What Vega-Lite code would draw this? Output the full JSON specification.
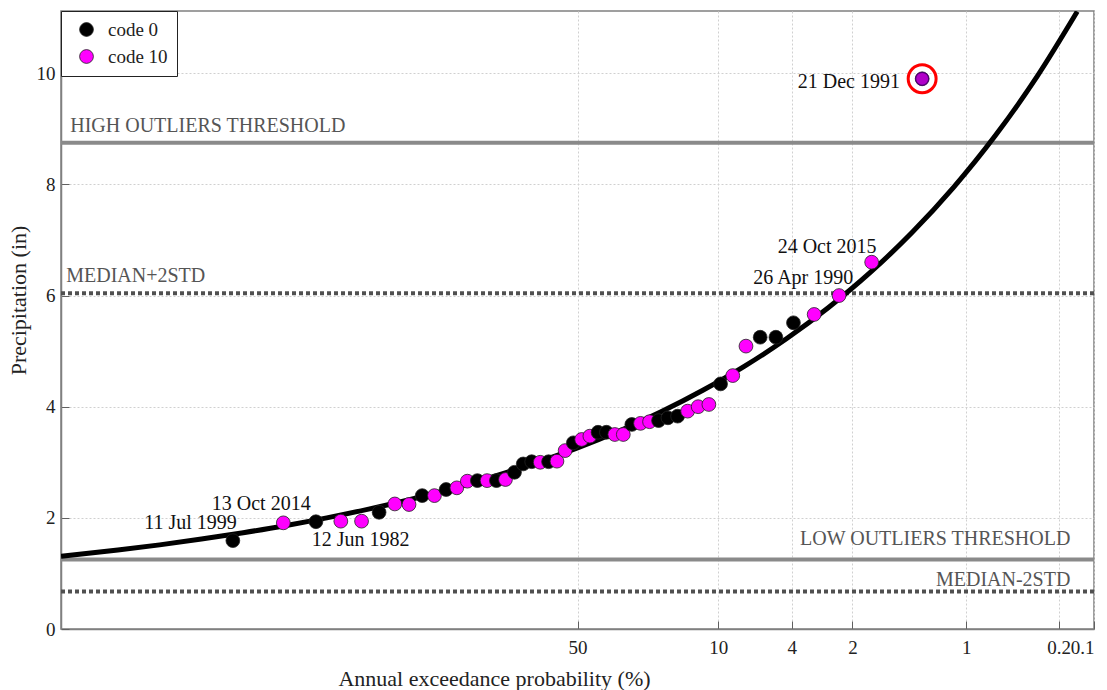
{
  "$schema": "https://vega.github.io/schema/vega-lite/v6.json",
  "width": 1033,
  "height": 618,
  "autosize": {"type": "none"},
  "padding": {"left": 61, "top": 11, "right": 13, "bottom": 61},
  "background": "white",
  "config": {
    "font": "Liberation Serif",
    "view": {"stroke": "#808080", "strokeWidth": 1.5},
    "text": {"font": "Liberation Serif"},
    "axis": {
      "labelFont": "Liberation Serif", "labelFontSize": 19, "labelColor": "#222222",
      "titleFont": "Liberation Serif", "titleFontSize": 22, "titleFontWeight": "normal", "titleColor": "#222222",
      "tickSize": -8, "tickColor": "#606060",
      "grid": true, "gridColor": "#d0d0d0", "gridDash": [2, 2], "gridWidth": 1,
      "domainColor": "#808080", "domainWidth": 1.5,
      "labelOverlap": false
    },
    "legend": {"labelFont": "Liberation Serif", "labelFontSize": 19}
  },
  "datasets": {
    "points": [
      {"z": -2.062, "value": 1.59, "code": "code 0"},
      {"z": -1.760, "value": 1.91, "code": "code 10"},
      {"z": -1.565, "value": 1.93, "code": "code 0"},
      {"z": -1.416, "value": 1.94, "code": "code 10"},
      {"z": -1.292, "value": 1.94, "code": "code 10"},
      {"z": -1.187, "value": 2.10, "code": "code 0"},
      {"z": -1.093, "value": 2.25, "code": "code 10"},
      {"z": -1.008, "value": 2.24, "code": "code 10"},
      {"z": -0.929, "value": 2.40, "code": "code 0"},
      {"z": -0.856, "value": 2.40, "code": "code 10"},
      {"z": -0.786, "value": 2.51, "code": "code 0"},
      {"z": -0.722, "value": 2.54, "code": "code 10"},
      {"z": -0.659, "value": 2.66, "code": "code 10"},
      {"z": -0.599, "value": 2.67, "code": "code 0"},
      {"z": -0.541, "value": 2.67, "code": "code 10"},
      {"z": -0.485, "value": 2.67, "code": "code 0"},
      {"z": -0.431, "value": 2.69, "code": "code 10"},
      {"z": -0.377, "value": 2.82, "code": "code 0"},
      {"z": -0.325, "value": 2.97, "code": "code 0"},
      {"z": -0.274, "value": 3.01, "code": "code 0"},
      {"z": -0.223, "value": 3.00, "code": "code 10"},
      {"z": -0.173, "value": 3.01, "code": "code 0"},
      {"z": -0.123, "value": 3.02, "code": "code 10"},
      {"z": -0.074, "value": 3.21, "code": "code 10"},
      {"z": -0.025, "value": 3.35, "code": "code 0"},
      {"z": 0.025, "value": 3.41, "code": "code 10"},
      {"z": 0.074, "value": 3.47, "code": "code 10"},
      {"z": 0.123, "value": 3.54, "code": "code 0"},
      {"z": 0.173, "value": 3.54, "code": "code 0"},
      {"z": 0.223, "value": 3.50, "code": "code 10"},
      {"z": 0.274, "value": 3.50, "code": "code 10"},
      {"z": 0.325, "value": 3.68, "code": "code 0"},
      {"z": 0.377, "value": 3.70, "code": "code 10"},
      {"z": 0.431, "value": 3.73, "code": "code 10"},
      {"z": 0.485, "value": 3.75, "code": "code 0"},
      {"z": 0.541, "value": 3.80, "code": "code 0"},
      {"z": 0.599, "value": 3.83, "code": "code 0"},
      {"z": 0.659, "value": 3.92, "code": "code 10"},
      {"z": 0.722, "value": 4.00, "code": "code 10"},
      {"z": 0.786, "value": 4.04, "code": "code 10"},
      {"z": 0.856, "value": 4.41, "code": "code 0"},
      {"z": 0.929, "value": 4.56, "code": "code 10"},
      {"z": 1.008, "value": 5.09, "code": "code 10"},
      {"z": 1.093, "value": 5.25, "code": "code 0"},
      {"z": 1.187, "value": 5.25, "code": "code 0"},
      {"z": 1.292, "value": 5.51, "code": "code 0"},
      {"z": 1.416, "value": 5.66, "code": "code 10"},
      {"z": 1.565, "value": 6.00, "code": "code 10"},
      {"z": 1.760, "value": 6.60, "code": "code 10"},
      {"z": 2.062, "value": 9.90, "code": "code 10"}
    ],
    "curve": [
      {"z": -3.09, "value": 1.309},
      {"z": -2.75, "value": 1.421},
      {"z": -2.5, "value": 1.514},
      {"z": -2.25, "value": 1.618},
      {"z": -2.0, "value": 1.733},
      {"z": -1.75, "value": 1.859},
      {"z": -1.5, "value": 2.0},
      {"z": -1.25, "value": 2.157},
      {"z": -1.0, "value": 2.331},
      {"z": -0.75, "value": 2.526},
      {"z": -0.5, "value": 2.744},
      {"z": -0.25, "value": 2.987},
      {"z": 0.0, "value": 3.258},
      {"z": 0.25, "value": 3.563},
      {"z": 0.5, "value": 3.907},
      {"z": 0.75, "value": 4.295},
      {"z": 1.0, "value": 4.73},
      {"z": 1.25, "value": 5.222},
      {"z": 1.5, "value": 5.78},
      {"z": 1.75, "value": 6.411},
      {"z": 2.0, "value": 7.129},
      {"z": 2.25, "value": 7.947},
      {"z": 2.5, "value": 8.878},
      {"z": 2.75, "value": 9.943},
      {"z": 2.99, "value": 11.11}
    ],
    "thresholds": [
      {"name": "HIGH OUTLIERS THRESHOLD", "level": 8.75, "style": "solid", "side": "left", "z": -3.035, "value": 9.046},
      {"name": "MEDIAN+2STD", "level": 6.04, "style": "dotted", "side": "left", "z": -3.059, "value": 6.36},
      {"name": "LOW OUTLIERS THRESHOLD", "level": 1.25, "style": "solid", "side": "right", "z": 2.949, "value": 1.624},
      {"name": "MEDIAN-2STD", "level": 0.675, "style": "dotted", "side": "right", "z": 2.949, "value": 0.886}
    ],
    "dates": [
      {"label": "11 Jul 1999", "z": -2.038, "value": 1.899, "side": "right"},
      {"label": "13 Oct 2014", "z": -2.188, "value": 2.254, "side": "left"},
      {"label": "12 Jun 1982", "z": -1.590, "value": 1.593, "side": "left"},
      {"label": "24 Oct 2015", "z": 1.789, "value": 6.873, "side": "right"},
      {"label": "26 Apr 1990", "z": 1.650, "value": 6.315, "side": "right"},
      {"label": "21 Dec 1991", "z": 1.929, "value": 9.843, "side": "right"}
    ],
    "outlier": [
      {"z": 2.062, "value": 9.90}
    ]
  },
  "layer": [
    {
      "data": {"name": "thresholds"},
      "transform": [{"filter": "datum.style == 'solid'"}],
      "mark": {"type": "rule", "color": "#8a8a8a", "strokeWidth": 4},
      "encoding": {
        "y": {"field": "level", "type": "quantitative", "title": "Precipitation (in)"}
      }
    },
    {
      "data": {"name": "thresholds"},
      "transform": [{"filter": "datum.style == 'dotted'"}],
      "mark": {"type": "rule", "color": "#505050", "strokeWidth": 4, "strokeDash": [4, 3]},
      "encoding": {
        "y": {"field": "level", "type": "quantitative", "title": "Precipitation (in)"}
      }
    },
    {
      "data": {"name": "thresholds"},
      "transform": [{"filter": "datum.side == 'left'"}],
      "mark": {"type": "text", "align": "left", "baseline": "middle", "fontSize": 20, "color": "#555555"},
      "encoding": {
        "x": {"field": "z", "type": "quantitative", "title": "Annual exceedance probability (%)"},
        "y": {"field": "value", "type": "quantitative", "title": "Precipitation (in)"},
        "text": {"field": "name"}
      }
    },
    {
      "data": {"name": "thresholds"},
      "transform": [{"filter": "datum.side == 'right'"}],
      "mark": {"type": "text", "align": "right", "baseline": "middle", "fontSize": 20, "color": "#555555"},
      "encoding": {
        "x": {"field": "z", "type": "quantitative", "title": "Annual exceedance probability (%)"},
        "y": {"field": "value", "type": "quantitative", "title": "Precipitation (in)"},
        "text": {"field": "name"}
      }
    },
    {
      "data": {"name": "curve"},
      "mark": {"type": "line", "color": "black", "strokeWidth": 5, "interpolate": "monotone", "clip": true},
      "encoding": {
        "x": {
          "field": "z", "type": "quantitative",
          "title": "Annual exceedance probability (%)",
          "scale": {"domain": [-3.0902, 3.0902], "nice": false, "zero": false},
          "axis": {
            "values": [0, 0.8416, 1.2816, 1.6449, 2.3263, 2.8782, 3.0902],
            "labelExpr": "datum.value < 0.4 ? '50' : datum.value < 1.1 ? '10' : datum.value < 1.5 ? '4' : datum.value < 2 ? '2' : datum.value < 2.6 ? '1' : datum.value < 3 ? '0.2' : '0.1'",
            "titleX": 433, "titleY": 49, "titleBaseline": "middle", "titleAlign": "center",
            "labelPadding": 17
          }
        },
        "y": {
          "field": "value", "type": "quantitative",
          "title": "Precipitation (in)",
          "scale": {"domain": [0, 11.12], "nice": false, "zero": true},
          "axis": {
            "values": [0, 2, 4, 6, 8, 10],
            "format": "d",
            "titleX": -43, "titleY": 289, "titleBaseline": "middle", "titleAlign": "center",
            "labelPadding": 14
          }
        }
      }
    },
    {
      "data": {"name": "points"},
      "mark": {"type": "point", "shape": "circle", "filled": true, "size": 190, "opacity": 1, "stroke": "#222222", "strokeWidth": 0.8},
      "encoding": {
        "x": {"field": "z", "type": "quantitative", "title": "Annual exceedance probability (%)"},
        "y": {"field": "value", "type": "quantitative", "title": "Precipitation (in)"},
        "color": {
          "field": "code", "type": "nominal",
          "scale": {"domain": ["code 0", "code 10"], "range": ["#000000", "#ff00ff"]},
          "legend": {
            "title": null, "orient": "top-left", "offset": 0, "padding": 9,
            "strokeColor": "#222222", "fillColor": "white", "cornerRadius": 0,
            "labelColor": "#222222",
            "symbolType": "circle", "symbolSize": 190, "symbolStrokeColor": "#222222", "symbolStrokeWidth": 0.8,
            "symbolOffset": 7, "labelOffset": 12, "rowPadding": 7
          }
        }
      }
    },
    {
      "data": {"name": "outlier"},
      "mark": {"type": "point", "shape": "circle", "filled": true, "size": 170, "opacity": 1, "fill": "#b000c8", "stroke": "#4b0070", "strokeWidth": 1.2},
      "encoding": {
        "x": {"field": "z", "type": "quantitative", "title": "Annual exceedance probability (%)"},
        "y": {"field": "value", "type": "quantitative", "title": "Precipitation (in)"}
      }
    },
    {
      "data": {"name": "outlier"},
      "mark": {"type": "point", "shape": "circle", "filled": false, "size": 780, "opacity": 1, "stroke": "#ff0000", "strokeWidth": 3},
      "encoding": {
        "x": {"field": "z", "type": "quantitative", "title": "Annual exceedance probability (%)"},
        "y": {"field": "value", "type": "quantitative", "title": "Precipitation (in)"}
      }
    },
    {
      "data": {"name": "dates"},
      "transform": [{"filter": "datum.side == 'right'"}],
      "mark": {"type": "text", "align": "right", "baseline": "middle", "fontSize": 20, "color": "#111111"},
      "encoding": {
        "x": {"field": "z", "type": "quantitative", "title": "Annual exceedance probability (%)"},
        "y": {"field": "value", "type": "quantitative", "title": "Precipitation (in)"},
        "text": {"field": "label"}
      }
    },
    {
      "data": {"name": "dates"},
      "transform": [{"filter": "datum.side == 'left'"}],
      "mark": {"type": "text", "align": "left", "baseline": "middle", "fontSize": 20, "color": "#111111"},
      "encoding": {
        "x": {"field": "z", "type": "quantitative", "title": "Annual exceedance probability (%)"},
        "y": {"field": "value", "type": "quantitative", "title": "Precipitation (in)"},
        "text": {"field": "label"}
      }
    }
  ]
}
